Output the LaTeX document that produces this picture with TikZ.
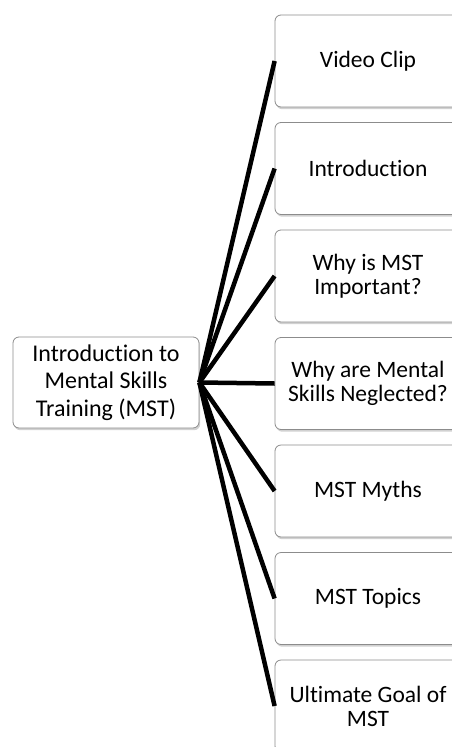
\documentclass[tikz,border=0pt]{standalone}
\usepackage{fontspec}
\setmainfont[Ligatures=NoCommon]{Carlito}
\usetikzlibrary{shadows}
\begin{document}
\begin{tikzpicture}[x=1pt,y=-1pt,
  card/.style={draw=black!45, line width=0.8pt, fill=white, rounded corners=6pt,
    minimum width=186pt, minimum height=92pt, align=center, inner sep=2pt,
    drop shadow={shadow xshift=1.2pt, shadow yshift=-2.2pt, fill=black!40, opacity=0.45}},
  topic/.style={card, font=\fontsize{23.5}{24}\selectfont},
  hub/.style={card, minimum height=91pt, font=\fontsize{24}{27.5}\selectfont},
  spoke/.style={line width=4.5pt, black}]
\useasboundingbox (0,0) rectangle (452,747);
% central node
\node[hub] (c) at (106,382.5) {Introduction to\\Mental Skills\\Training (MST)};
% topic cards down the right side
\node[topic] (t1) at (368,61)    {Video Clip};
\node[topic] (t2) at (368,168.5) {Introduction};
\node[topic] (t3) at (368,276)   {Why is MST\\Important?};
\node[topic] (t4) at (368,383.5) {Why are Mental\\Skills Neglected?};
\node[topic] (t5) at (368,491)   {MST Myths};
\node[topic] (t6) at (368,598.5) {MST Topics};
\node[topic] (t7) at (368,706)   {Ultimate Goal of\\MST};
% spokes from the hub to every card
\foreach \t in {t1,t2,t3,t4,t5,t6,t7}
  \draw[spoke] (c.east) -- (\t.west);
\end{tikzpicture}
\end{document}
